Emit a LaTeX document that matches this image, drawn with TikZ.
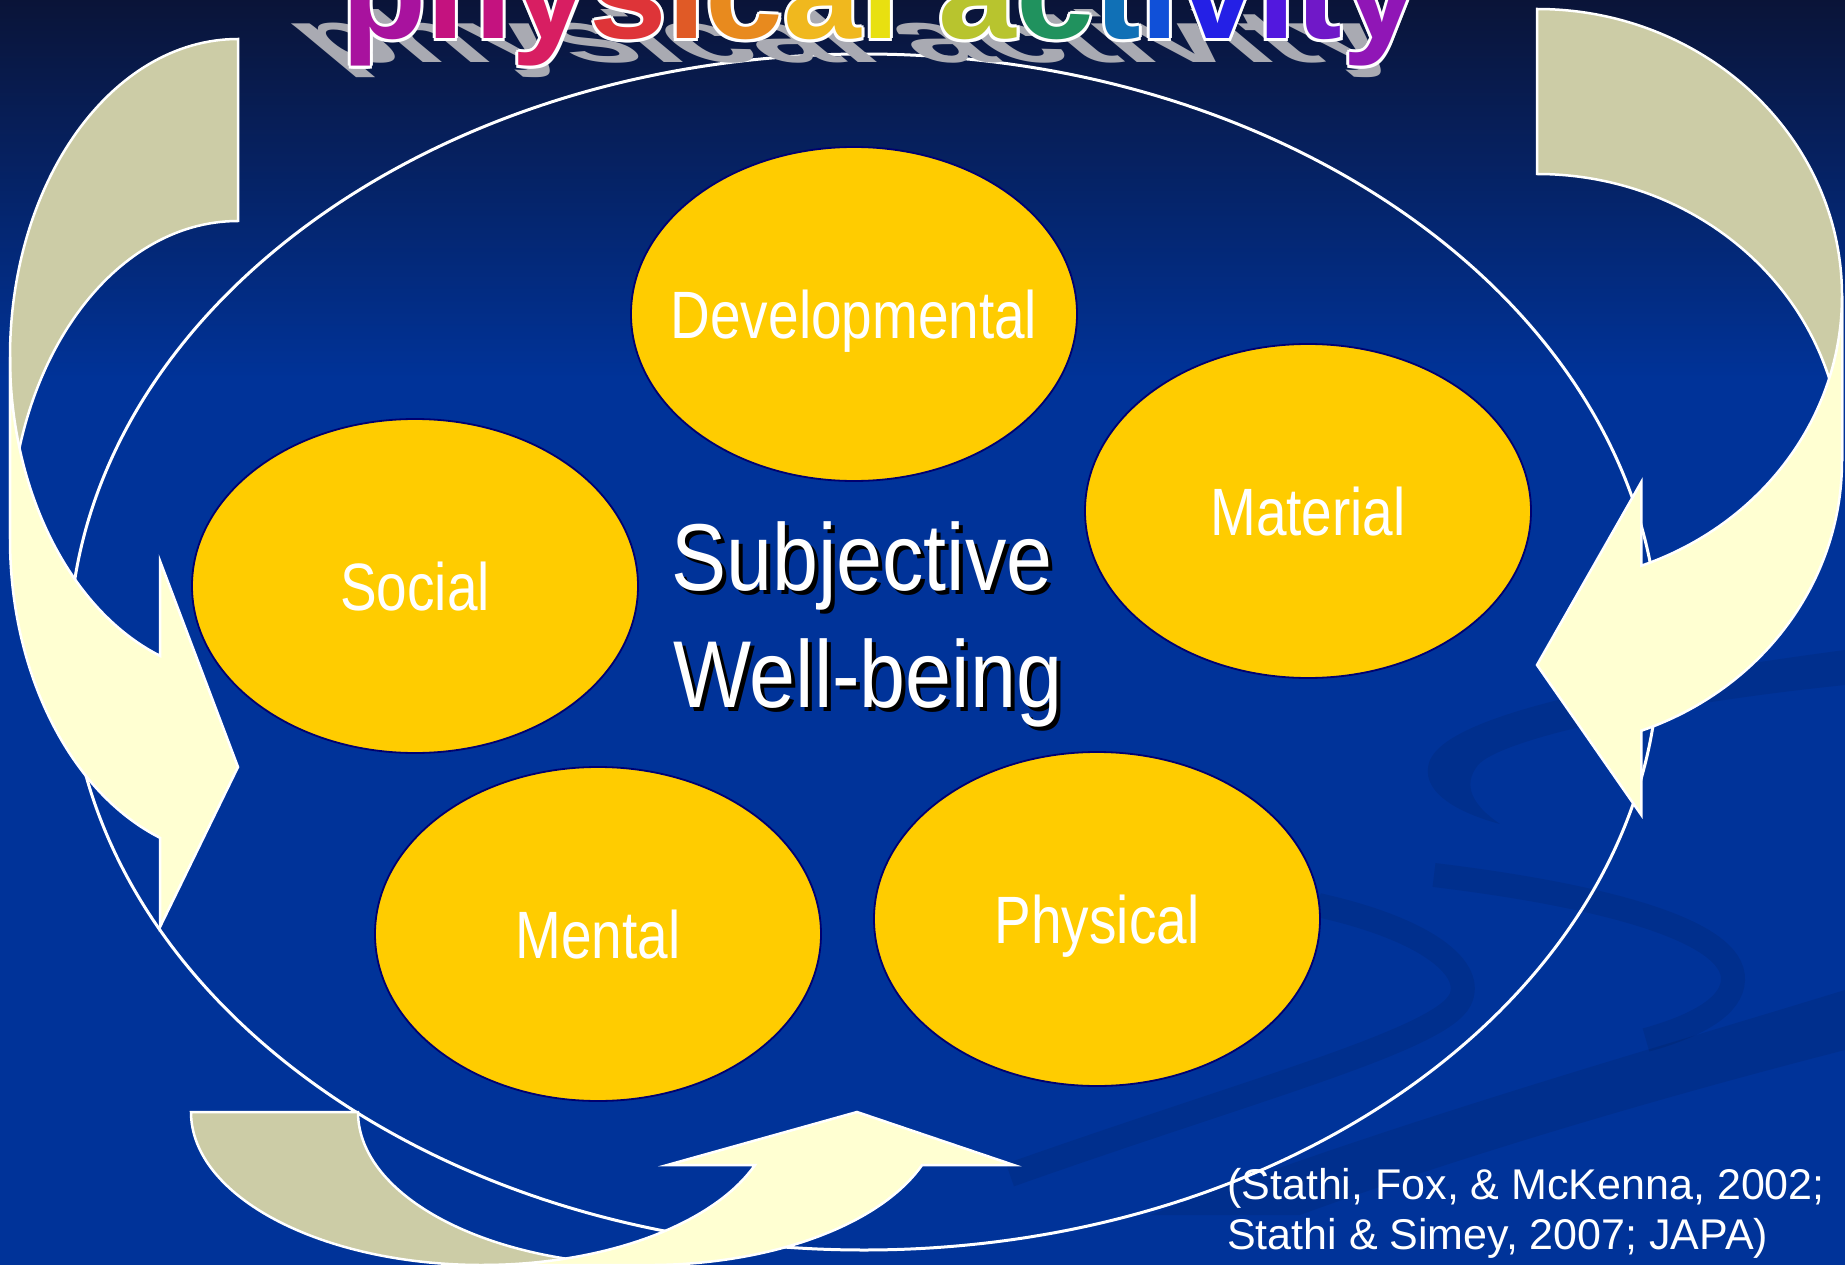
\documentclass[tikz,border=0pt]{standalone}
\usepackage{fontspec}
\setmainfont{Liberation Sans}
\newfontfamily\narrowfont[FakeStretch=0.82]{Liberation Sans}
\newfontfamily\swbfont[FakeStretch=0.87]{Liberation Sans}
\newfontfamily\wordartfont[FakeStretch=1.05]{Liberation Sans}
\usetikzlibrary{shapes.geometric}

\definecolor{bgtop}{HTML}{0A1438}
\definecolor{bgmid}{HTML}{00215F}
\definecolor{bgblue}{HTML}{003399}
\definecolor{sunyellow}{HTML}{FFCC00}
\definecolor{navyline}{HTML}{000070}
\definecolor{khaki}{HTML}{CCCCA6}
\definecolor{cream}{HTML}{FFFFD2}
\definecolor{shadowgray}{HTML}{A9AAB2}
\definecolor{tA}{HTML}{A8129E}
\definecolor{tB}{HTML}{C4127F}
\definecolor{tC}{HTML}{D81E62}
\definecolor{tD}{HTML}{DE3438}
\definecolor{tE}{HTML}{E05A26}
\definecolor{tF}{HTML}{E88A1E}
\definecolor{tG}{HTML}{F0B81E}
\definecolor{tH}{HTML}{E8E010}
\definecolor{tI}{HTML}{B8C42E}
\definecolor{tJ}{HTML}{20925E}
\definecolor{tK}{HTML}{1070B6}
\definecolor{tL}{HTML}{1050D8}
\definecolor{tM}{HTML}{2420E6}
\definecolor{tN}{HTML}{5218DE}
\definecolor{tO}{HTML}{7018C8}
\definecolor{tP}{HTML}{9016B6}

\newcommand\tccolor[2]{{\color{#1}#2}}
\newcommand\tcwhite[2]{{\color{white}#2}}
\newcommand\tcgray[2]{{\color{shadowgray}#2}}
\newcommand\titlestr{\tc{tA}{p}\tc{tB}{h}\tc{tC}{y}\tc{tD}{s}\tc{tE}{i}\tc{tF}{c}\tc{tG}{a}\tc{tH}{l} \tc{tI}{a}\tc{tJ}{c}\tc{tK}{t}\tc{tL}{i}\tc{tM}{v}\tc{tN}{i}\tc{tO}{t}\tc{tP}{y}}

\begin{document}
\begin{tikzpicture}[x=1pt,y=-1pt,
  factor/.style={ellipse, fill=sunyellow, draw=navyline, line width=1.8pt,
    minimum width=446pt, minimum height=334pt, inner sep=0pt},
  factorlabel/.style={inner sep=0pt, text=white,
    font=\narrowfont\fontsize{67}{67}\selectfont, text height=48pt, text depth=0pt},
  backband/.style={fill=khaki, draw=white, line width=2.5pt, line join=miter},
  frontband/.style={fill=cream, draw=white, line width=2.5pt, line join=miter},
  swoosh/.style={fill=black, fill opacity=0.08},
  swooshline/.style={draw=black, draw opacity=0.08, line width=24pt},
  swbtext/.style={anchor=base west, inner sep=0pt, font=\swbfont\fontsize{95}{95}\selectfont},
  citetext/.style={anchor=base west, inner sep=0pt, text=white, font=\fontsize{43}{52}\selectfont},
  wordart/.style={anchor=base west, inner sep=0pt, font=\wordartfont\bfseries\fontsize{133}{133}\selectfont}
]
\useasboundingbox (0,0) rectangle (1845,1265);
\clip (0,0) rectangle (1845,1265);

% background
\shade[top color=bgtop, middle color=bgmid, bottom color=bgblue] (0,0) rectangle (1845,381);
\fill[bgblue] (0,380) rectangle (1845,1265);

% template swooshes
\fill[swoosh] (1845,650) .. controls (1620,680) and (1450,715) .. (1430,760) .. controls (1418,790) and (1455,812) .. (1500,824) .. controls (1472,805) and (1462,785) .. (1478,765) .. controls (1500,740) and (1650,705) .. (1845,685) -- cycle;
\draw[swooshline] (1318,905) .. controls (1430,930) and (1475,970) .. (1460,1000) .. controls (1440,1040) and (1250,1090) .. (1010,1175);
\draw[swooshline] (1434,875) .. controls (1600,895) and (1735,930) .. (1733,980) .. controls (1732,1005) and (1700,1025) .. (1646,1040);
\fill[swoosh] (1150,1215) .. controls (1400,1120) and (1650,1050) .. (1845,990) -- (1845,1050) .. controls (1650,1100) and (1450,1160) .. (1300,1215) -- cycle;

% big frame ellipse
\node[ellipse, draw=white, line width=3pt, minimum width=1590pt, minimum height=1196pt, inner sep=0pt] (frame) at (864,652) {};

% title shadow and title
\node[wordart, cm={1,0,-0.66,0.55,(0,0)}] (titleshadow) at (328,63) {\let\tc\tcgray\titlestr};
\foreach \dx/\dy [count=\k] in {3/0,-3/0,0/3,0/-3,2.2/2.2,-2.2/2.2,2.2/-2.2,-2.2/-2.2}
  \node[wordart] (titleedge\k) at (341+\dx,39+\dy) {\let\tc\tcwhite\titlestr};
\node[wordart] (title) at (341,39) {\let\tc\tccolor\titlestr};

% left curved arrow (pointing right)
\path[backband] (238,39) arc[start angle=270, end angle=180, x radius=228, y radius=318]
  -- (10,539) arc[start angle=180, end angle=270, x radius=228, y radius=318] -- cycle;
\path[frontband] (10,357) arc[start angle=180, end angle=110, x radius=228, y radius=318]
  -- (160.02,561) -- (238,767) -- (160.02,927) -- (160.02,837.8)
  arc[start angle=110, end angle=180, x radius=228, y radius=318] -- cycle;

% right curved arrow (pointing left)
\path[backband] (1537,9) arc[start angle=270, end angle=360, x radius=305, y radius=287]
  -- (1842,461) arc[start angle=0, end angle=-90, x radius=305, y radius=287] -- cycle;
\path[frontband] (1842,296) arc[start angle=0, end angle=70, x radius=305, y radius=287]
  -- (1641.3,482) -- (1537,665) -- (1641.3,815) -- (1641.3,730.7)
  arc[start angle=70, end angle=0, x radius=305, y radius=287] -- cycle;

% bottom curved arrow (pointing up)
\path[backband] (191,1112) arc[start angle=180, end angle=90, x radius=291, y radius=153]
  -- (649,1265) arc[start angle=90, end angle=180, x radius=291, y radius=153] -- cycle;
\path[frontband] (482,1265) arc[start angle=90, end angle=20.3, x radius=291, y radius=153]
  -- (667,1165.1) -- (857,1112) -- (1014,1165.1) -- (922,1165.1)
  arc[start angle=20.3, end angle=90, x radius=291, y radius=153] -- cycle;

% domains
\node[factor] (dev) at (854,314) {};
\node[factor] (mat) at (1308,511) {};
\node[factor] (soc) at (415,586) {};
\node[factor] (men) at (598,934) {};
\node[factor] (phy) at (1097,919) {};
\node[factorlabel] (devlabel) at (dev.center) {Developmental};
\node[factorlabel] (matlabel) at (mat.center) {Material};
\node[factorlabel] (soclabel) at (soc.center) {Social};
\node[factorlabel] (menlabel) at (men.center) {Mental};
\node[factorlabel] (phylabel) at (phy.center) {Physical};

% centre title
\node[swbtext, text=black] (swbAs) at (675,594) {Subjective};
\node[swbtext, text=white] (swbA) at (671,590) {Subjective};
\node[swbtext, text=black] (swbBs) at (677,711) {Well-being};
\node[swbtext, text=white] (swbB) at (673,707) {Well-being};

% citation
\node[citetext] (citeA) at (1227,1199) {(Stathi, Fox, \& McKenna, 2002;};
\node[citetext] (citeB) at (1227,1249) {Stathi \& Simey, 2007; JAPA)};
\end{tikzpicture}
\end{document}
